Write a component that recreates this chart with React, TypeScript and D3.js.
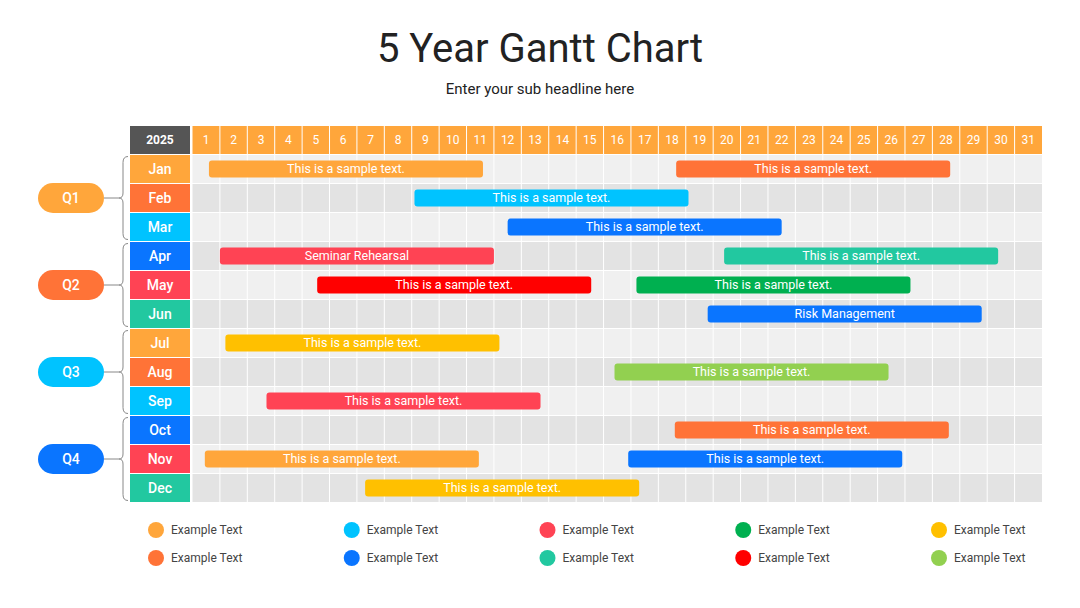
import React from "react";
import * as d3 from "d3";

const months = ["Jan", "Feb", "Mar", "Apr", "May", "Jun", "Jul", "Aug", "Sep", "Oct", "Nov", "Dec"];
const days = d3.range(1, 32);
const quarters = ["Q1", "Q2", "Q3", "Q4"];
const yearLabel = "2025";

const C = {
  lorange: "#FFA63B",
  dorange: "#FF7337",
  cyan: "#00C3FF",
  blue: "#0A75FF",
  pink: "#FF4354",
  teal: "#22C8A0",
  green: "#00B050",
  yellow: "#FFC000",
  red: "#FF0000",
  lgreen: "#92D050",
};

const monthColors = [C.lorange, C.dorange, C.cyan, C.blue, C.pink, C.teal, C.lorange, C.dorange, C.cyan, C.blue, C.pink, C.teal];
const quarterColors = [C.lorange, C.dorange, C.cyan, C.blue];

// tasks: month index, start (in day-column units), duration, label, colour key
const taskMonth = [0, 0, 1, 2, 3, 3, 4, 4, 5, 6, 7, 8, 9, 10, 10, 11];
const taskStart = [0.6, 17.65, 8.1, 11.5, 1.0, 19.4, 4.55, 16.2, 18.8, 1.2, 15.4, 2.7, 17.6, 0.45, 15.9, 6.3];
const taskDuration = [10, 10, 10, 10, 10, 10, 10, 10, 10, 10, 10, 10, 10, 10, 10, 10];
const taskLabel = [
  "This is a sample text.", "This is a sample text.", "This is a sample text.", "This is a sample text.",
  "Seminar Rehearsal", "This is a sample text.", "This is a sample text.", "This is a sample text.",
  "Risk Management", "This is a sample text.", "This is a sample text.", "This is a sample text.",
  "This is a sample text.", "This is a sample text.", "This is a sample text.", "This is a sample text.",
];
const taskColor = [C.lorange, C.dorange, C.cyan, C.blue, C.pink, C.teal, C.red, C.green, C.blue, C.yellow, C.lgreen, C.pink, C.dorange, C.lorange, C.blue, C.yellow];

const legendLabels = ["Example Text", "Example Text", "Example Text", "Example Text", "Example Text", "Example Text", "Example Text", "Example Text", "Example Text", "Example Text"];
const legendColors = [C.lorange, C.cyan, C.pink, C.green, C.yellow, C.dorange, C.blue, C.teal, C.red, C.lgreen];

const FONT = "Roboto, 'Open Sans', sans-serif";

export default function App() {
  const W = 1080, H = 608;
  const gridX0 = 192.5, gridX1 = 1042;
  const headerTop = 126, headerH = 28.5;
  const rowTop = headerTop + headerH;
  const rowH = 29;
  const labelX0 = 130, labelX1 = 190;

  const x = d3.scaleLinear().domain([0, 31]).range([gridX0, gridX1]);
  const y = d3.scaleBand<number>().domain(d3.range(12)).range([rowTop, rowTop + rowH * 12]);
  const colW = x(1) - x(0);
  const barH = 17;

  const legendX = d3.scalePoint<number>().domain(d3.range(5)).range([156, 939]);
  const legendY = [530, 558];

  const brace = (top: number, bot: number) => {
    const mid = (top + bot) / 2;
    const xt = 128, xv = 123, xp = 119;
    return `M${xt},${top} Q${xv},${top} ${xv},${top + 6} L${xv},${mid - 5} Q${xv},${mid} ${xp},${mid} Q${xv},${mid} ${xv},${mid + 5} L${xv},${bot - 6} Q${xv},${bot} ${xt},${bot}`;
  };

  return (
    <svg width={W} height={H} style={{ position: "absolute", left: 0, top: 0, background: "#fff" }} fontFamily={FONT}>
      <text x={540} y={62} textAnchor="middle" fontSize={40} fill="#222" fontWeight={400}>5 Year Gantt Chart</text>
      <text x={540} y={94} textAnchor="middle" fontSize={15} fill="#222">Enter your sub headline here</text>

      {/* header */}
      <rect x={labelX0} y={headerTop} width={labelX1 - labelX0} height={headerH} fill="#555555" />
      <text x={(labelX0 + labelX1) / 2} y={headerTop + headerH / 2} dy="0.35em" textAnchor="middle" fontSize={12} fontWeight={700} fill="#fff">{yearLabel}</text>
      <rect x={gridX0} y={headerTop} width={gridX1 - gridX0} height={headerH} fill={C.lorange} />
      {days.map((d, i) => (
        <text key={"d" + d} x={x(i) + colW / 2} y={headerTop + headerH / 2} dy="0.35em" textAnchor="middle" fontSize={12} fill="#fff">{d}</text>
      ))}

      {/* rows */}
      {months.map((m, i) => (
        <g key={m}>
          <rect x={gridX0} y={y(i)} width={gridX1 - gridX0} height={rowH} fill={i % 2 === 0 ? "#F0F0F0" : "#E3E3E3"} />
          <rect x={labelX0} y={y(i)} width={labelX1 - labelX0} height={rowH} fill={monthColors[i]} />
          <text x={(labelX0 + labelX1) / 2} y={(y(i) as number) + rowH / 2} dy="0.36em" textAnchor="middle" fontSize={14} fontWeight={500} fill="#fff">{m}</text>
        </g>
      ))}
      {/* grid lines */}
      {d3.range(1, 31).map((i) => (
        <line key={"v" + i} x1={x(i)} x2={x(i)} y1={headerTop} y2={rowTop + rowH * 12} stroke="#fff" strokeWidth={1} />
      ))}
      {d3.range(0, 13).map((i) => (
        <line key={"h" + i} x1={labelX0} x2={gridX1} y1={rowTop + rowH * i} y2={rowTop + rowH * i} stroke="#fff" strokeWidth={1} />
      ))}

      {/* bars */}
      {taskMonth.map((mi, i) => {
        const cy = (y(mi) as number) + rowH / 2;
        const x0 = x(taskStart[i]);
        const x1 = x(taskStart[i] + taskDuration[i]);
        return (
          <g key={"t" + i}>
            <rect x={x0} y={cy - barH / 2} width={x1 - x0} height={barH} rx={3} fill={taskColor[i]} />
            <text x={(x0 + x1) / 2} y={cy} dy="0.35em" textAnchor="middle" fontSize={12.5} fill="#fff">{taskLabel[i]}</text>
          </g>
        );
      })}

      {/* quarters */}
      {quarters.map((q, i) => {
        const top = (y(i * 3) as number) + 2;
        const bot = (y(i * 3 + 2) as number) + rowH - 2;
        const mid = (y(i * 3 + 1) as number) + rowH / 2;
        return (
          <g key={q}>
            <path d={brace(top, bot)} fill="none" stroke="#888" strokeWidth={1} />
            <line x1={104} x2={119} y1={mid} y2={mid} stroke="#888" strokeWidth={1} />
            <rect x={38} y={mid - 15} width={66} height={30} rx={15} fill={quarterColors[i]} />
            <text x={71} y={mid} dy="0.35em" textAnchor="middle" fontSize={14} fontWeight={500} fill="#fff">{q}</text>
          </g>
        );
      })}

      {/* legend */}
      {legendLabels.map((l, i) => {
        const col = i % 5, row = Math.floor(i / 5);
        const cx = legendX(col) as number;
        const cy = legendY[row];
        return (
          <g key={"l" + i}>
            <circle cx={cx} cy={cy} r={8} fill={legendColors[i]} />
            <text x={cx + 15} y={cy} dy="0.35em" fontSize={12} fill="#444">{l}</text>
          </g>
        );
      })}
    </svg>
  );
}
